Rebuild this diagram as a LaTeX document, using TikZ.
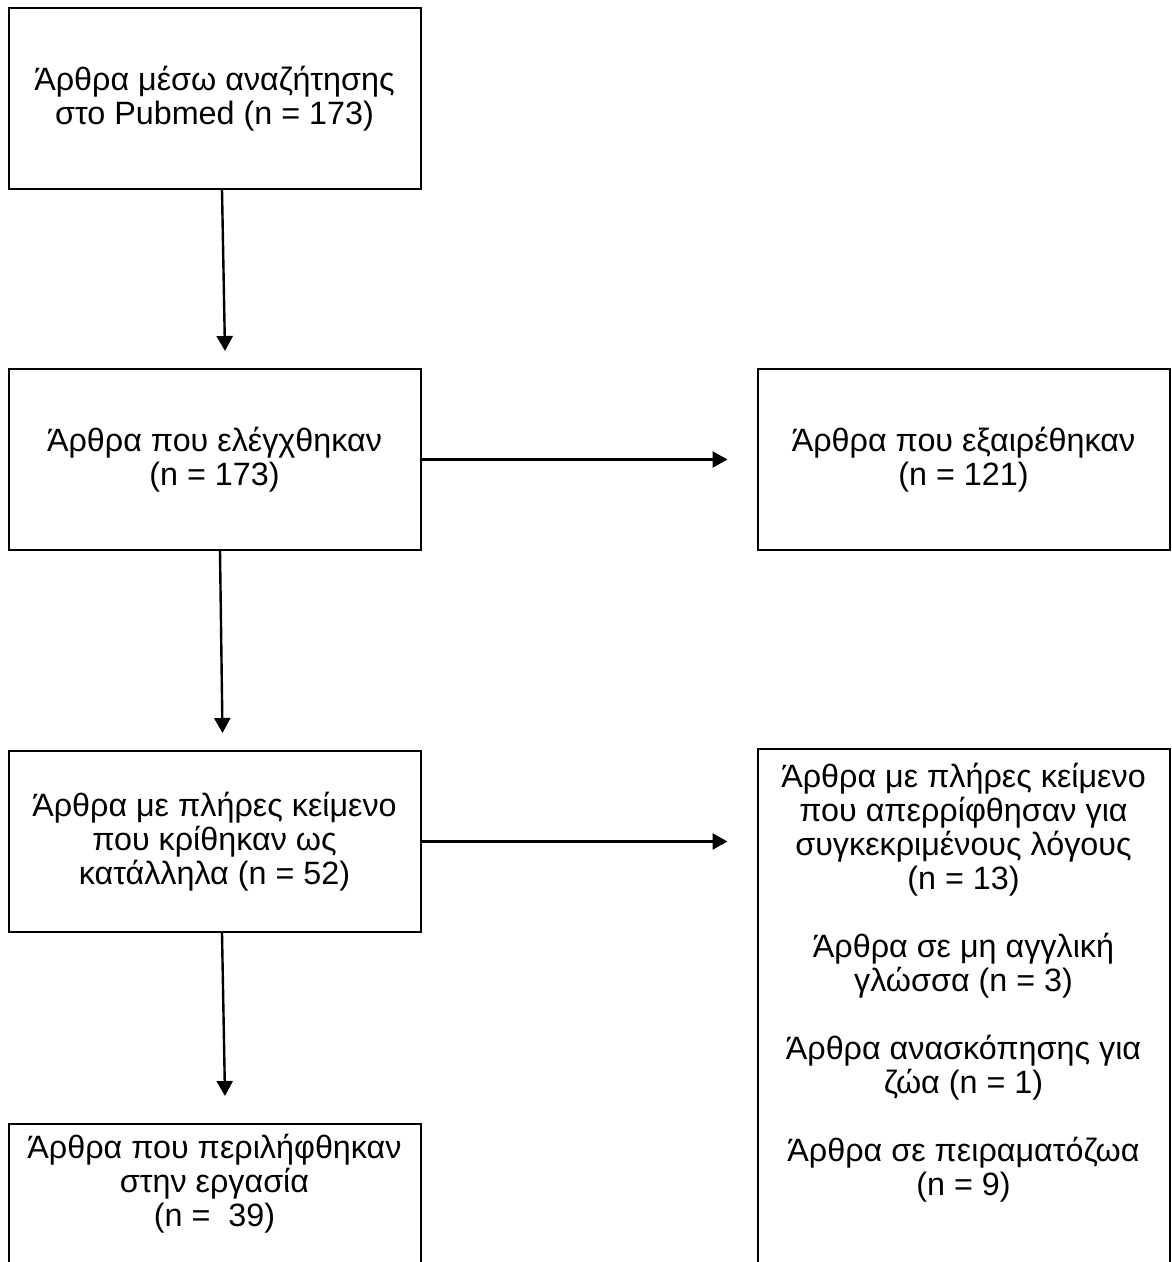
\documentclass[tikz,border=0pt]{standalone}
\usepackage{fontspec}
\setmainfont{Liberation Sans}
\usetikzlibrary{arrows.meta}
\tikzset{
  box/.style={draw, line width=2pt, rectangle, inner sep=0pt, minimum width=412pt},
  txt/.style={align=center, font=\fontsize{32.3}{34}\selectfont},
  arr/.style={line width=2.4pt, -{Triangle[length=15pt,width=16pt]}}
}
\begin{document}
\begin{tikzpicture}[x=1pt,y=-1pt]
\clip (0,0) rectangle (1171,1262);
% left column
\node[box, txt, minimum height=181pt] (search) at (214.5,98.5) {Άρθρα μέσω αναζήτησης\\στο Pubmed (n = 173)};
\node[box, txt, minimum height=181pt] (screened) at (214.5,459.5) {Άρθρα που ελέγχθηκαν\\(n = 173)};
\node[box, txt, minimum height=181pt] (eligible) at (214.5,841.5) {Άρθρα με πλήρες κείμενο\\που κρίθηκαν ως\\κατάλληλα (n = 52)};
\node[box, minimum height=400pt, anchor=north] (included) at (214.5,1123) {};
\node[txt, anchor=north] (includedtxt) at ([yshift=-8pt]included.north) {Άρθρα που περιλήφθηκαν\\στην εργασία\\(n = \ 39)};
% right column
\node[box, txt, minimum height=181pt] (excluded) at (963.5,459.5) {Άρθρα που εξαιρέθηκαν\\(n = 121)};
\node[box, minimum height=600pt, anchor=north] (rejected) at (963.5,748) {};
\node[txt, anchor=north] (rejectedtxt) at ([yshift=-12pt]rejected.north) {Άρθρα με πλήρες κείμενο\\που απερρίφθησαν για\\συγκεκριμένους λόγους\\(n = 13)\\[34pt]Άρθρα σε μη αγγλική\\γλώσσα (n = 3)\\[34pt]Άρθρα ανασκόπησης για\\ζώα (n = 1)\\[34pt]Άρθρα σε πειραματόζωα\\(n = 9)};
% arrow ends
\coordinate (a1) at ([xshift=10.5pt,yshift=17pt]screened.north);
\coordinate (a2) at ([xshift=8pt,yshift=17pt]eligible.north);
\coordinate (a3) at ([xshift=10.5pt,yshift=27pt]included.north);
\coordinate (b1) at ([xshift=-29pt]excluded.west);
\coordinate (b2) at (b1 |- eligible.east);
% arrows
\draw[arr] ([xshift=7.5pt]search.south) -- (a1);
\draw[arr] ([xshift=5.5pt]screened.south) -- (a2);
\draw[arr] ([xshift=7.5pt]eligible.south) -- (a3);
\draw[arr] (screened.east) -- (b1);
\draw[arr] (eligible.east) -- (b2);
\end{tikzpicture}
\end{document}
